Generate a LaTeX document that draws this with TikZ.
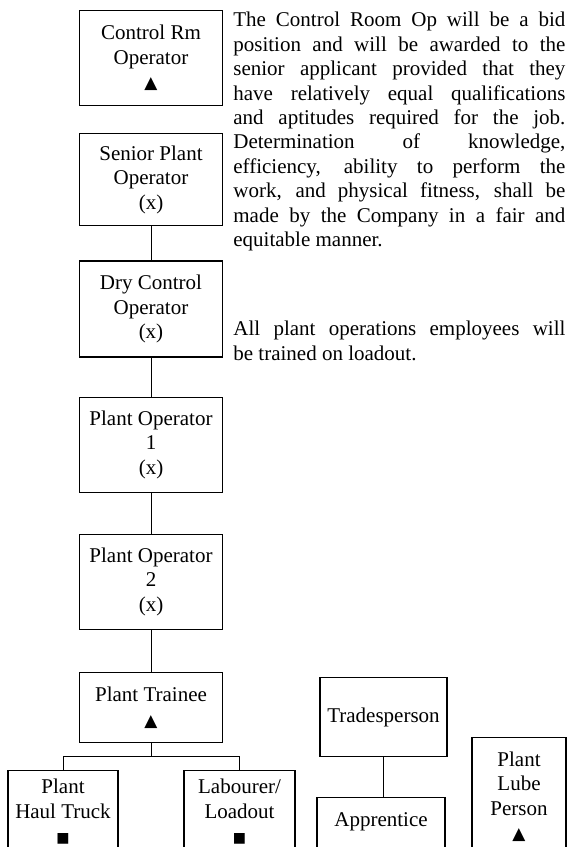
\documentclass[tikz,border=0pt]{standalone}
\usepackage{fontspec}
\setmainfont{Liberation Serif}
\newfontfamily\symfont{DejaVu Sans}
\usetikzlibrary{positioning}
\newcommand{\uptri}{{\symfont\fontsize{8.5}{8.5}\selectfont ▲}}
\newcommand{\blksq}{{\symfont\fontsize{7}{7}\selectfont ■}}
\tikzset{
  body/.style={font=\fontsize{10.5}{12.2}\selectfont},
  post/.style={body, draw, semithick, align=center, minimum width=#1, inner sep=2pt},
  link/.style={draw, line width=0.5pt},
  note/.style={body, anchor=north west, inner sep=0pt, text width=166pt, align=justify,
    execute at begin node={\tolerance=10000\hyphenpenalty=10000}}
}
\begin{document}
\begin{tikzpicture}[x=0.5pt, y=-0.5pt]
  \useasboundingbox (0,0) rectangle (568,847);
  \clip (0,0) rectangle (568,847);
  \node[post=71.5pt, minimum height=47.5pt, anchor=north] (cro) at (151,10) {Control Rm\\Operator\\\uptri};
  \node[post=71.5pt, minimum height=46pt, below=13.5pt of cro] (spo) {Senior Plant\\Operator\\(x)};
  \node[post=71.5pt, minimum height=48pt, below=17pt of spo] (dco) {Dry Control\\Operator\\(x)};
  \node[post=71.5pt, minimum height=47.5pt, below=19.5pt of dco] (po1) {Plant Operator\\1\\(x)};
  \node[post=71.5pt, minimum height=47.5pt, below=20.5pt of po1] (po2) {Plant Operator\\2\\(x)};
  \node[post=71.5pt, minimum height=35pt, below=21pt of po2] (trainee) {Plant Trainee\\\uptri};
  \node[post=55pt, minimum height=41pt, anchor=north] (haul) at (63,770) {Plant\\Haul Truck\\\blksq};
  \node[post=55.5pt, minimum height=41pt, anchor=north] (labourer) at (239.5,770) {Labourer/\\Loadout\\\blksq};
  \node[post=63.5pt, minimum height=39.5pt, anchor=north] (trades) at (383.5,677) {Tradesperson};
  \node[post=64pt, text height=12.5pt, text depth=25pt, anchor=north] (apprentice) at (381,797) {Apprentice};
  \node[post=47pt, minimum height=59pt, anchor=north] (lube) at (519,737) {Plant\\Lube\\Person\\\uptri};
  \node[note] (bid) at (233,12) {The Control Room Op will be a bid\linebreak
    position and will be awarded to the\linebreak
    senior applicant provided that they\linebreak
    have relatively equal qualifications\linebreak
    and aptitudes required for the job.\linebreak
    Determination of knowledge,\linebreak
    efficiency, ability to perform the\linebreak
    work, and physical fitness, shall be\linebreak
    made by the Company in a fair and\linebreak
    equitable manner.};
  \node[note] (loadout) at (233,321) {All plant operations employees will\linebreak
    be trained on loadout.};
  \draw[link] (spo) -- (dco);
  \draw[link] (dco) -- (po1);
  \draw[link] (po1) -- (po2);
  \draw[link] (po2) -- (trainee);
  \draw[link] (trainee.south) -- ++(0,13) coordinate (bus) -| (haul.north);
  \draw[link] (bus) -| (labourer.north);
  \draw[link] (trades.south) -- (trades.south |- apprentice.north);
\end{tikzpicture}
\end{document}
